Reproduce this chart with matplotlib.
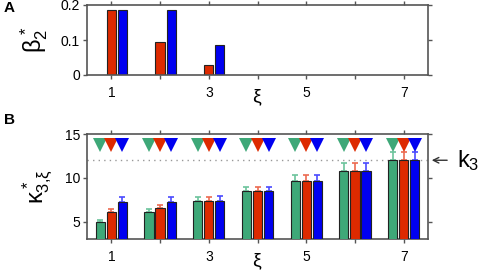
import numpy as np
import matplotlib
matplotlib.use("Agg")
import matplotlib.pyplot as plt

plt.rcParams['font.family'] = ['Liberation Sans', 'DejaVu Sans']
plt.rcParams['mathtext.fontset'] = 'custom'
plt.rcParams['mathtext.rm'] = 'Liberation Sans'
plt.rcParams['mathtext.it'] = 'Liberation Sans'
plt.rcParams['mathtext.bf'] = 'Liberation Sans:bold'

# panel A: beta*_2 for xi = 1..3 (red, blue)
xi_a = [1, 2, 3]
beta_red = [0.185, 0.093, 0.028]
beta_blue = [0.185, 0.185, 0.085]

# panel B: kappa*_{3,xi} for xi = 1..7
xi_b = [1, 2, 3, 4, 5, 6, 7]
kap_green = [4.9, 6.1, 7.3, 8.45, 9.65, 10.8, 12.0]
kap_red = [6.1, 6.5, 7.3, 8.45, 9.65, 10.8, 12.0]
kap_blue = [7.25, 7.25, 7.4, 8.45, 9.65, 10.8, 12.0]
err_green = [0.3, 0.35, 0.45, 0.5, 0.65, 0.9, 1.0]
err_red = [0.35, 0.4, 0.5, 0.5, 0.65, 0.9, 1.0]
err_blue = [0.55, 0.55, 0.5, 0.5, 0.65, 0.9, 1.0]
k3 = 12.0
marker_y = 13.7

xticks = [1, 2, 3, 4, 5, 6, 7]
xticklabels = ['1', '', '3', '', '5', '', '7']

GREEN = '#3ea878'
RED = '#dd2a00'
BLUE = '#0000f0'
GREEN_L = '#6cc49c'
RED_L = '#ec6a50'
BLUE_L = '#4a4aff'
SPINE = '#555555'

W, H = 480, 276
fig = plt.figure(figsize=(W / 100, H / 100), dpi=100)


def px_axes(x0, y0, x1, y1):
    return fig.add_axes([x0 / W, 1 - y1 / H, (x1 - x0) / W, (y1 - y0) / H])


def style(ax):
    for s in ax.spines.values():
        s.set_color(SPINE)
        s.set_linewidth(1.2)
    ax.tick_params(direction='out', length=3, width=1, color=SPINE,
                   top=True, right=True, labelsize=10, pad=2)
    ax.tick_params(axis='x', pad=5)
    ax.set_xlim(0.5, 7.5)
    ax.set_xticks(xticks)
    ax.set_xticklabels(xticklabels)
    ax.annotate(r'$\xi$', xy=(4, 0), xycoords=ax.get_xaxis_transform(),
                xytext=(0, -9), textcoords='offset points',
                ha='center', va='top', fontsize=14)


off = 0.227
bw = 0.19

axA = px_axes(87, 5, 428, 75)
style(axA)
xa = np.array(xi_a)
axA.bar(xa, beta_red, bw, color=RED, edgecolor='#222222', linewidth=0.8)
axA.bar(xa + off, beta_blue, bw, color=BLUE, edgecolor='#222222', linewidth=0.8)
axA.set_ylim(0, 0.2)
axA.set_yticks([0, 0.1, 0.2])
axA.set_yticklabels(['0', '0.1', '0.2'])
axA.set_ylabel(r'$\beta^*_2$', fontsize=17, labelpad=8)

axB = px_axes(87, 134, 428, 239)
style(axB)
xb = np.array(xi_b)
for dx, vals, errs, c, cl in [(-off, kap_green, err_green, GREEN, GREEN_L),
                              (0, kap_red, err_red, RED, RED_L),
                              (off, kap_blue, err_blue, BLUE, BLUE_L)]:
    axB.bar(xb + dx, vals, bw, color=c, edgecolor='#222222', linewidth=0.8,
            zorder=3)
    axB.errorbar(xb + dx, vals, yerr=[[0] * len(vals), errs], fmt='none',
                 ecolor=cl, elinewidth=1.2, capsize=2.5, capthick=1.2,
                 zorder=2)
    axB.plot(xb + dx, [marker_y] * len(vals), 'v', color=c, markersize=9.5,
             markeredgewidth=0)
axB.axhline(k3, color='#999999', linestyle=(0, (1, 3)), linewidth=1, zorder=1)
axB.set_ylim(3, 15)
axB.set_yticks([5, 10, 15])
axB.set_ylabel(r'$\kappa^*_{3{,}\xi}$', fontsize=17, labelpad=6)
axB.annotate('', xy=(7.52, k3), xytext=(7.95, k3),
             arrowprops=dict(arrowstyle='->', color='#333333', lw=1),
             annotation_clip=False)
axB.text(8.1, k3, r'$k_3$', fontsize=17, ha='left', va='center')

fig.text(0.008, 0.972, 'A', fontsize=11, fontweight='bold', va='center')
fig.text(0.008, 0.565, 'B', fontsize=11, fontweight='bold', va='center')

fig.savefig('out.png', dpi=100)
